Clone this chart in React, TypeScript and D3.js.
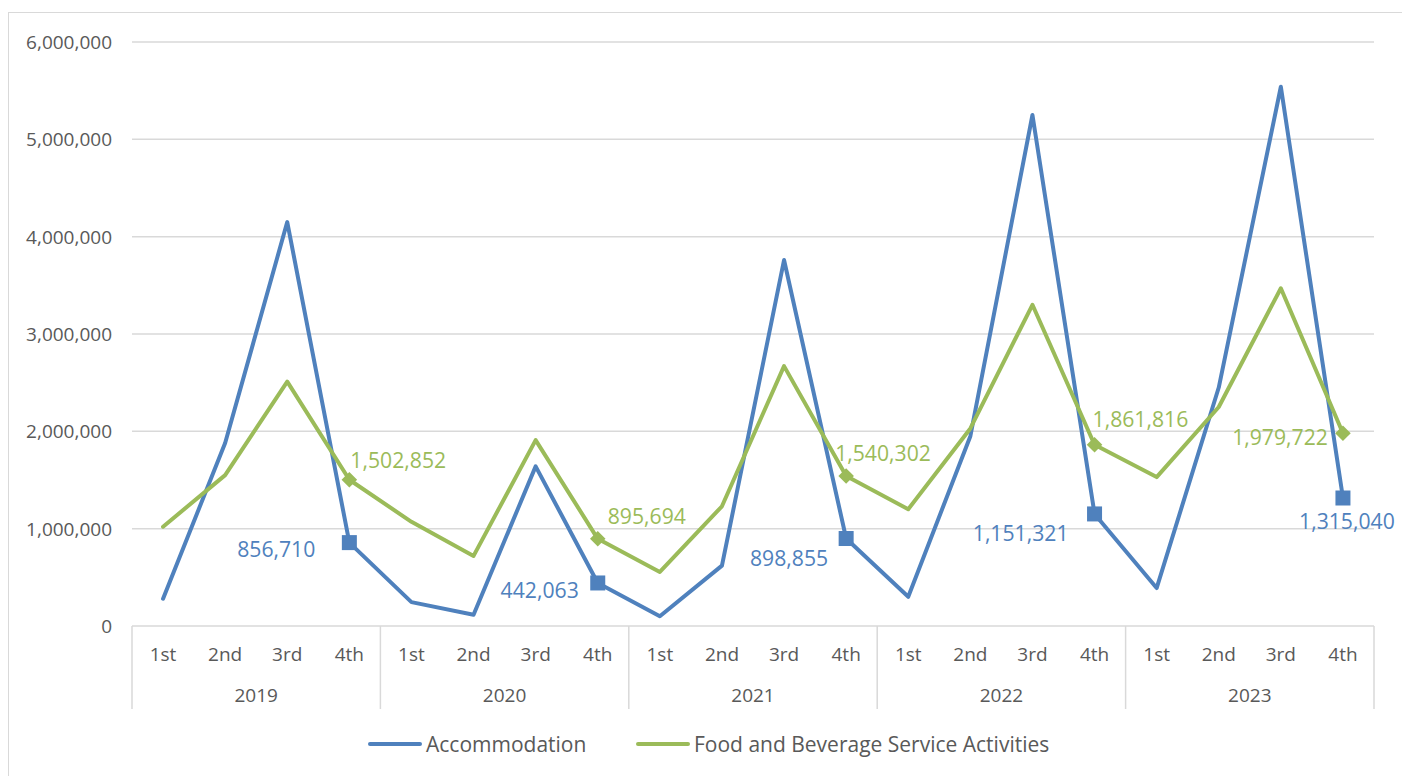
import React from 'react'
import * as d3 from 'd3'

const years = ['2019', '2020', '2021', '2022', '2023']
const quarters = ['1st', '2nd', '3rd', '4th']

const accommodation = [
  280000, 1880000, 4150000, 856710,
  245000, 115000, 1640000, 442063,
  100000, 620000, 3760000, 898855,
  300000, 1950000, 5250000, 1151321,
  390000, 2450000, 5540000, 1315040,
]

const foodBeverage = [
  1020000, 1550000, 2510000, 1502852,
  1070000, 720000, 1910000, 895694,
  555000, 1230000, 2670000, 1540302,
  1200000, 2030000, 3300000, 1861816,
  1530000, 2250000, 3470000, 1979722,
]

const yTicks = [0, 1000000, 2000000, 3000000, 4000000, 5000000, 6000000]

// where each 4th-quarter label sits relative to its point
const accLabelPos = [
  { dx: -34, dy: 6, anchor: 'end' },
  { dx: -19, dy: 7, anchor: 'end' },
  { dx: -18, dy: 19, anchor: 'end' },
  { dx: -26, dy: 19, anchor: 'end' },
  { dx: 4, dy: 22, anchor: 'middle' },
]
const foodLabelPos = [
  { dx: 1, dy: -20, anchor: 'start' },
  { dx: 10, dy: -23, anchor: 'start' },
  { dx: -11, dy: -24, anchor: 'start' },
  { dx: -2, dy: -26, anchor: 'start' },
  { dx: -15, dy: 3, anchor: 'end' },
]

const blue = '#4F81BD'
const green = '#9BBB59'
const grid = '#D9D9D9'
const textCol = '#595959'
const font = '"Open Sans", "Noto Sans", sans-serif'

const plot = { left: 132, right: 1374, top: 42, bottom: 626 }

export default function App() {
  const keys = years.flatMap(y => quarters.map(q => y + '-' + q))

  const x = d3.scaleBand<string>()
    .domain(keys)
    .range([plot.left, plot.right])
    .padding(0)
  const cx = (i: number) => (x(keys[i]) as number) + x.bandwidth() / 2

  const y = d3.scaleLinear()
    .domain([0, 6000000])
    .range([plot.bottom, plot.top])

  const fmt = d3.format(',')

  const line = d3.line<number>()
    .x((d, i) => cx(i))
    .y(d => y(d))

  const yearW = x.bandwidth() * 4

  return (
    <svg width={1402} height={776} style={{ position: 'absolute', left: 0, top: 0 }}
      fontFamily={font}>
      <rect x={8.5} y={12.5} width={1400} height={770} fill='white' stroke={grid} />

      {/* gridlines */}
      {yTicks.map(t => (
        <g key={'g' + t}>
          {t > 0 &&
            <line x1={plot.left} x2={plot.right} y1={y(t)} y2={y(t)} stroke={grid} strokeWidth={1.5} />}
          <text x={112} y={y(t)} textAnchor='end' dominantBaseline='central'
            fill={textCol} fontSize={19}>
            {fmt(t)}
          </text>
        </g>
      ))}

      {/* category axis */}
      <line x1={plot.left} x2={plot.right} y1={plot.bottom} y2={plot.bottom} stroke={grid} strokeWidth={1.5} />
      {d3.range(years.length + 1).map(i => (
        <line key={'sep' + i}
          x1={plot.left + i * yearW} x2={plot.left + i * yearW}
          y1={plot.bottom} y2={709} stroke={grid} strokeWidth={1.5} />
      ))}
      {keys.map((k, i) => (
        <text key={'q' + k} x={cx(i)} y={654} textAnchor='middle' dominantBaseline='central'
          fill={textCol} fontSize={19}>
          {quarters[i % 4]}
        </text>
      ))}
      {years.map((yr, i) => (
        <text key={'y' + yr} x={plot.left + (i + 0.5) * yearW} y={695} textAnchor='middle'
          dominantBaseline='central' fill={textCol} fontSize={19}>
          {yr}
        </text>
      ))}

      {/* lines */}
      <path d={line(accommodation) as string} fill='none' stroke={blue} strokeWidth={4}
        strokeLinejoin='round' strokeLinecap='round' />
      <path d={line(foodBeverage) as string} fill='none' stroke={green} strokeWidth={4}
        strokeLinejoin='round' strokeLinecap='round' />

      {/* 4th quarter markers + labels */}
      {years.map((yr, yi) => {
        const i = yi * 4 + 3
        const px = cx(i)
        const pa = y(accommodation[i])
        const pf = y(foodBeverage[i])
        const la = accLabelPos[yi]
        const lf = foodLabelPos[yi]
        return (
          <g key={'m' + yr}>
            <rect x={px - 7.5} y={pa - 7.5} width={15} height={15} fill={blue} />
            <rect x={px - 5.5} y={pf - 5.5} width={11} height={11} fill={green}
              transform={'rotate(45,' + px + ',' + pf + ')'} />
            <text x={px + la.dx} y={pa + la.dy} textAnchor={la.anchor as any}
              dominantBaseline='central' fill={blue} fontSize={21.2}>
              {fmt(accommodation[i])}
            </text>
            <text x={px + lf.dx} y={pf + lf.dy} textAnchor={lf.anchor as any}
              dominantBaseline='central' fill={green} fontSize={21.2}>
              {fmt(foodBeverage[i])}
            </text>
          </g>
        )
      })}

      {/* legend */}
      <line x1={370} x2={420} y1={744} y2={744} stroke={blue} strokeWidth={4} strokeLinecap='round' />
      <text x={426} y={744} dominantBaseline='central' fill={textCol} fontSize={21}>Accommodation</text>
      <line x1={638} x2={688} y1={744} y2={744} stroke={green} strokeWidth={4} strokeLinecap='round' />
      <text x={694} y={744} dominantBaseline='central' fill={textCol} fontSize={21}>Food and Beverage Service Activities</text>
    </svg>
  )
}
